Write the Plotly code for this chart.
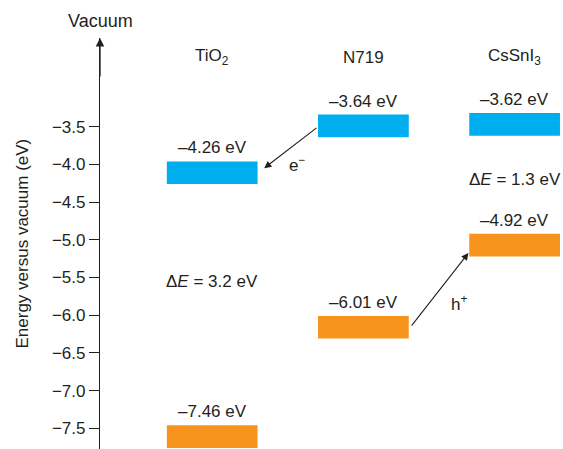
import plotly.graph_objects as go

materials = ["TiO<sub>2</sub>", "N719", "CsSnI<sub>3</sub>"]
cb_values = [-4.26, -3.64, -3.62]   # conduction band / LUMO (eV)
vb_values = [-7.46, -6.01, -4.92]   # valence band / HOMO (eV)
cb_labels = ["–4.26 eV", "–3.64 eV", "–3.62 eV"]
vb_labels = ["–7.46 eV", "–6.01 eV", "–4.92 eV"]
gap_labels = ["Δ<i>E</i> = 3.2 eV", None, "Δ<i>E</i> = 1.3 eV"]
tick_vals = [-3.5, -4.0, -4.5, -5.0, -5.5, -6.0, -6.5, -7.0, -7.5]
tick_text = ["−3.5", "−4.0", "−4.5", "−5.0", "−5.5", "−6.0", "−6.5", "−7.0", "−7.5"]

BLUE = "#00AEEF"
ORANGE = "#F7941D"
TXT = "#231F20"
FONT = "Liberation Sans, Arial, sans-serif"
THICK = 0.3
xs = [1, 2, 3]
FS = 17
W, H, L, T = 563, 449, 100, 38

fig = go.Figure()
fig.add_trace(go.Bar(x=xs, y=[THICK] * 3, base=cb_values, width=0.6,
                     marker=dict(color=BLUE, line=dict(width=0)), hoverinfo="skip"))
fig.add_trace(go.Bar(x=xs, y=[-THICK] * 3, base=vb_values, width=0.6,
                     marker=dict(color=ORANGE, line=dict(width=0)), hoverinfo="skip"))

ann = []
for i, x in enumerate(xs):
    ann.append(dict(x=x, y=cb_values[i] + THICK, text=cb_labels[i], showarrow=False,
                    yanchor="bottom", yshift=2, font=dict(size=FS, color=TXT)))
    ann.append(dict(x=x, y=vb_values[i], text=vb_labels[i], showarrow=False,
                    yanchor="bottom", yshift=2, font=dict(size=FS, color=TXT)))
    ann.append(dict(x=x, y=1, yref="paper", text=materials[i], showarrow=False,
                    yanchor="middle", yshift=-19, font=dict(size=FS, color=TXT)))
# band gap labels
ann.append(dict(x=1, y=-5.55, text=gap_labels[0], showarrow=False, font=dict(size=FS, color=TXT)))
ann.append(dict(x=3, y=-4.2, text=gap_labels[2], showarrow=False, font=dict(size=FS, color=TXT)))
# electron transfer arrow
ann.append(dict(x=1.344, y=-4.05, ax=1.70, ay=-3.50, xref="x", yref="y", axref="x", ayref="y",
                showarrow=True, arrowhead=2, arrowsize=1.3, arrowwidth=1.1, arrowcolor=TXT, text=""))
ann.append(dict(x=1.56, y=-4.0, text="e<sup>−</sup>", showarrow=False, font=dict(size=FS, color=TXT)))
# hole transfer arrow
ann.append(dict(x=2.695, y=-5.175, ax=2.311, ay=-6.157, xref="x", yref="y", axref="x", ayref="y",
                showarrow=True, arrowhead=2, arrowsize=1.3, arrowwidth=1.1, arrowcolor=TXT, text=""))
ann.append(dict(x=2.63, y=-5.84, text="h<sup>+</sup>", showarrow=False, font=dict(size=FS, color=TXT)))
# vacuum arrow on axis
ann.append(dict(x=0, y=1, xref="x domain", yref="y domain", ax=0, ay=40,
                showarrow=True, arrowhead=2, arrowsize=1.3, arrowwidth=1.3, arrowcolor=TXT, text=""))
ann.append(dict(x=0, y=1, xref="x domain", yref="paper", text="Vacuum", showarrow=False,
                xanchor="center", yanchor="bottom", yshift=5, font=dict(size=18, color=TXT)))
# y-axis title
ann.append(dict(x=-78 / (W - L), y=0.5, xref="paper", yref="paper", text="Energy versus vacuum (eV)",
                showarrow=False, textangle=-90, xanchor="center", yanchor="middle",
                font=dict(size=FS, color=TXT)))

fig.update_layout(
    width=W, height=H,
    margin=dict(l=L, r=0, t=T, b=0, autoexpand=False),
    paper_bgcolor="white", plot_bgcolor="white",
    showlegend=False, barmode="overlay",
    font=dict(family=FONT, color=TXT),
    annotations=ann,
    xaxis=dict(range=[0.258, 3.32], visible=False, fixedrange=True),
    yaxis=dict(range=[-7.774, -2.324], tickvals=tick_vals, ticktext=tick_text,
               ticks="outside", ticklen=10, tickwidth=1.3, tickcolor=TXT,
               showline=True, linecolor=TXT, linewidth=1.3, showgrid=False,
               zeroline=False, tickfont=dict(size=FS, color=TXT), fixedrange=True),
)
fig.write_html("out.html", config={"displayModeBar": False},
               post_script="document.body.style.margin='0';document.body.style.overflow='hidden';")
